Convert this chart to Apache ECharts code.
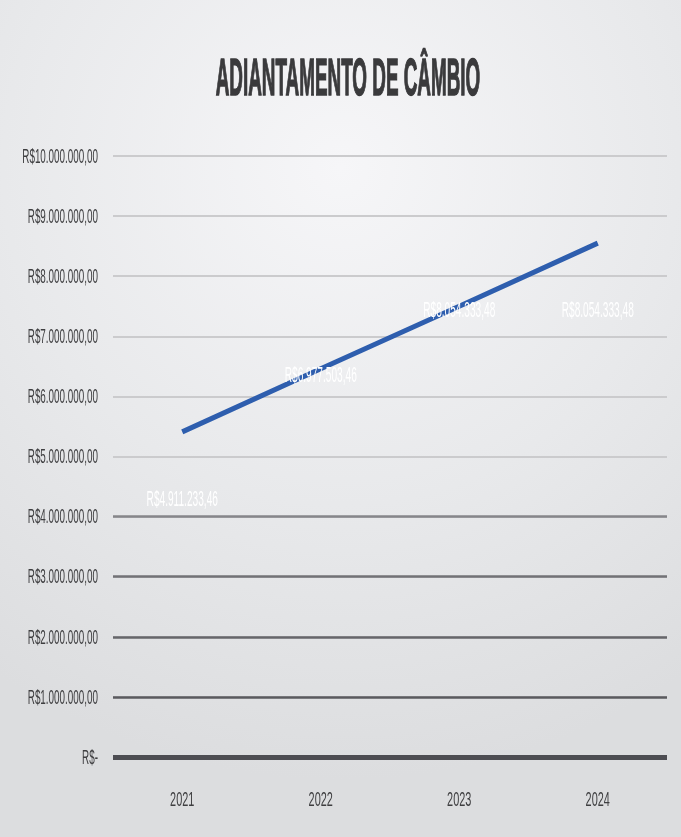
<!DOCTYPE html>
<html>
<head>
<meta charset="utf-8">
<style>
  html, body { margin: 0; padding: 0; width: 681px; height: 837px; overflow: hidden; }
  #chart { width: 681px; height: 837px; }
</style>
<script src="https://cdn.jsdelivr.net/npm/echarts@6/dist/echarts.min.js"></script>
</head>
<body>
<div id="chart"></div>
<script>
const titleText = 'ADIANTAMENTO DE CÂMBIO';
const categories = ['2021', '2022', '2023', '2024'];
const values = [4911233.46, 6977503.46, 8054333.48, 8054333.48];
// Linear trend line
const trendValues = [5410000, 6460000, 7500000, 8550000];
const yTickValues = [0, 1000000, 2000000, 3000000, 4000000, 5000000, 6000000, 7000000, 8000000, 9000000, 10000000];
const yTickLabels = ['R$-', 'R$1.000.000,00', 'R$2.000.000,00', 'R$3.000.000,00', 'R$4.000.000,00',
  'R$5.000.000,00', 'R$6.000.000,00', 'R$7.000.000,00', 'R$8.000.000,00', 'R$9.000.000,00', 'R$10.000.000,00'];
const darkGridValues = [1000000, 2000000, 3000000, 4000000];
const darkGridColors = ['#5a5a5e', '#66666a', '#727276', '#86868a'];

function fmtBRL(v) {
  const fixed = v.toFixed(2);
  const parts = fixed.split('.');
  const intPart = parts[0].replace(/\B(?=(\d{3})+(?!\d))/g, '.');
  return 'R$' + intPart + ',' + parts[1];
}

const LABEL_FONT = 'normal 21px "Liberation Sans", Arial, sans-serif';
const SQUEEZE = 0.47;

const chart = echarts.init(document.getElementById('chart'), null, { renderer: 'canvas' });

const option = {
  animation: false,
  backgroundColor: {
    type: 'radial', x: 0.5, y: 0.2, r: 0.9,
    colorStops: [
      { offset: 0, color: '#f6f6f8' },
      { offset: 0.55, color: '#e8e9eb' },
      { offset: 1, color: '#dcdddf' }
    ]
  },
  graphic: [{
    type: 'text',
    x: 348, y: 81,
    scaleX: 0.37,
    style: {
      text: titleText,
      font: 'bold 51px "Liberation Sans", Arial, sans-serif',
      fill: '#3a3a3c',
      stroke: '#3a3a3c',
      lineWidth: 1.5,
      align: 'center',
      verticalAlign: 'middle'
    },
    z: 100
  }],
  grid: { left: 113, right: 14, top: 156, bottom: 80 },
  xAxis: {
    type: 'category',
    data: categories,
    boundaryGap: true,
    axisLine: { show: true, lineStyle: { color: '#4d4d52', width: 5, cap: 'butt' } },
    axisTick: { show: false },
    axisLabel: { show: false },
    splitLine: { show: false }
  },
  yAxis: {
    type: 'value',
    min: 0, max: 10000000, interval: 1000000,
    axisLine: { show: false },
    axisTick: { show: false },
    axisLabel: { show: false },
    splitLine: { show: true, lineStyle: { color: '#cbcbcd', width: 2 } }
  },
  series: [
    {
      name: 'valores',
      type: 'line',
      data: values,
      symbol: 'none',
      lineStyle: { opacity: 0 },
      silent: true,
      markLine: {
        silent: true,
        symbol: ['none', 'none'],
        label: { show: false },
        data: darkGridValues.map((v, i) => ({ yAxis: v, lineStyle: { color: darkGridColors[i], width: 2.5, type: 'solid' } }))
      }
    },
    {
      name: 'tendência',
      type: 'line',
      data: trendValues,
      symbol: 'none',
      lineStyle: { color: '#2e5eae', width: 5, cap: 'butt' },
      silent: true,
      z: 5
    },
    {
      // data labels, white, below each point
      type: 'custom',
      clip: false,
      silent: true,
      z: 10,
      data: values.map((v, i) => [i, v]),
      renderItem: function (params, api) {
        const i = params.dataIndex;
        const pt = api.coord([i, values[i]]);
        return {
          type: 'text',
          x: pt[0], y: pt[1] + 38,
          scaleX: 0.46,
          style: {
            text: fmtBRL(values[i]),
            font: 'normal 22px "Liberation Sans", Arial, sans-serif',
            fill: '#ffffff',
            align: 'center',
            verticalAlign: 'middle'
          }
        };
      }
    },
    {
      // y axis tick labels
      type: 'custom',
      clip: false,
      silent: true,
      z: 10,
      data: yTickValues.map(v => [0, v]),
      renderItem: function (params, api) {
        const i = params.dataIndex;
        const pt = api.coord([0, yTickValues[i]]);
        return {
          type: 'text',
          x: params.coordSys.x - 15, y: pt[1] + 1,
          scaleX: SQUEEZE,
          style: {
            text: yTickLabels[i],
            font: LABEL_FONT,
            fill: '#3e3e40',
            align: 'right',
            verticalAlign: 'middle'
          }
        };
      }
    },
    {
      // x axis category labels
      type: 'custom',
      clip: false,
      silent: true,
      z: 10,
      data: categories.map((c, i) => [i, 0]),
      renderItem: function (params, api) {
        const i = params.dataIndex;
        const pt = api.coord([i, 0]);
        return {
          type: 'text',
          x: pt[0], y: pt[1] + 43,
          scaleX: 0.52,
          style: {
            text: categories[i],
            font: LABEL_FONT,
            fill: '#3e3e40',
            align: 'center',
            verticalAlign: 'middle'
          }
        };
      }
    }
  ]
};

chart.setOption(option);
</script>
</body>
</html>
